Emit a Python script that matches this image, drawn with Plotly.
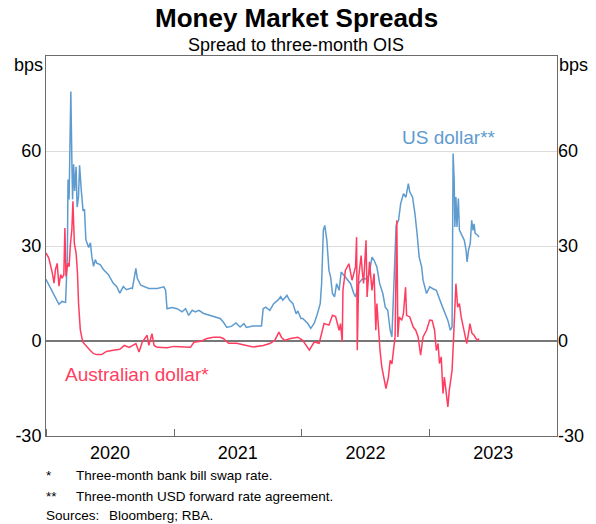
import plotly.graph_objects as go

# ---------------- data ----------------
us_dates = [
    "2020-01-01", "2020-01-14", "2020-01-28", "2020-02-07", "2020-02-16", "2020-02-26",
    "2020-03-02", "2020-03-04", "2020-03-07", "2020-03-09", "2020-03-12", "2020-03-15",
    "2020-03-17", "2020-03-20", "2020-03-23", "2020-03-27", "2020-03-30", "2020-04-03",
    "2020-04-06", "2020-04-11", "2020-04-16", "2020-04-20", "2020-04-24", "2020-05-02",
    "2020-05-07", "2020-05-11", "2020-05-16", "2020-05-21", "2020-05-25", "2020-06-04",
    "2020-06-13", "2020-06-27", "2020-07-11", "2020-07-21", "2020-07-30", "2020-08-09",
    "2020-08-18", "2020-09-01", "2020-09-04", "2020-09-14", "2020-09-18", "2020-09-28",
    "2020-10-21", "2020-11-14", "2020-12-03", "2020-12-08", "2020-12-12", "2020-12-26",
    "2021-01-10", "2021-01-24", "2021-02-03", "2021-02-12", "2021-02-22", "2021-03-03",
    "2021-03-13", "2021-03-27", "2021-04-15", "2021-04-29", "2021-05-13", "2021-05-22",
    "2021-06-01", "2021-06-15", "2021-06-27", "2021-07-09", "2021-07-20", "2021-07-27",
    "2021-08-15", "2021-09-08", "2021-09-13", "2021-09-20", "2021-10-02", "2021-10-13",
    "2021-10-25", "2021-11-02", "2021-11-08", "2021-11-20", "2021-11-27", "2021-12-07",
    "2021-12-16", "2021-12-21", "2021-12-30", "2022-01-04", "2022-01-18", "2022-01-27",
    "2022-02-06", "2022-02-15", "2022-02-23", "2022-02-27", "2022-03-04", "2022-03-08",
    "2022-03-14", "2022-03-20", "2022-03-25", "2022-03-30", "2022-04-05", "2022-04-11",
    "2022-04-18", "2022-04-24", "2022-05-02", "2022-05-11", "2022-05-21", "2022-05-30",
    "2022-06-04", "2022-06-13", "2022-06-23", "2022-07-02", "2022-07-12", "2022-07-21",
    "2022-07-27", "2022-08-04", "2022-08-12", "2022-08-21", "2022-08-28", "2022-09-04",
    "2022-09-11", "2022-09-16", "2022-09-20", "2022-09-23", "2022-09-28", "2022-10-05",
    "2022-10-11", "2022-10-19", "2022-10-26", "2022-11-02", "2022-11-06", "2022-11-14",
    "2022-11-21", "2022-11-27", "2022-12-03", "2022-12-10", "2022-12-14", "2022-12-24",
    "2023-01-02", "2023-01-11", "2023-01-21", "2023-02-04", "2023-02-13", "2023-02-23",
    "2023-03-02", "2023-03-07", "2023-03-10", "2023-03-13", "2023-03-15", "2023-03-18",
    "2023-03-21", "2023-03-25", "2023-03-28", "2023-04-02", "2023-04-06", "2023-04-11",
    "2023-04-16", "2023-04-19", "2023-04-23", "2023-04-28", "2023-05-02", "2023-05-06",
    "2023-05-09", "2023-05-12", "2023-05-19", "2023-05-23",
]
us_values = [
    19.5, 16.7, 14.1, 11.6, 12.5, 12.2,
    26.7, 51.0, 44.7, 55.0, 78.8, 56.7,
    44.7, 55.8, 47.4, 55.0, 42.3, 45.6,
    55.5, 47.4, 41.1, 41.6, 32.0, 29.5,
    31.0, 26.7, 23.6, 25.7, 24.6, 24.1,
    22.6, 21.0, 18.3, 17.2, 15.1, 17.2,
    16.2, 16.7, 16.6, 22.9, 19.8, 17.6,
    16.6, 16.6, 17.1, 16.0, 10.2, 10.6,
    10.2, 9.2, 10.2, 8.1, 9.7, 9.2,
    9.7, 8.7, 8.1, 7.6, 7.1, 6.0,
    4.3, 4.7, 5.7, 4.4, 5.5, 4.3,
    4.7, 4.7, 10.2, 10.7, 9.7, 11.8,
    12.9, 14.0, 12.9, 14.4, 12.9, 11.8,
    8.6, 9.5, 7.1, 7.1, 5.6, 4.0,
    5.6, 8.6, 11.8, 18.1, 35.0, 36.5,
    31.8, 22.3, 20.1, 15.0, 13.9, 18.1,
    16.0, 21.8, 20.7, 19.6, 18.1, 15.0,
    13.9, 18.1, 19.6, 19.6, 20.7, 26.5,
    25.5, 23.4, 18.1, 15.0, 10.7, 9.7,
    3.4, 1.3, 12.9, 25.5, 36.5, 38.1,
    43.4, 46.5, 45.4, 49.7, 47.1, 45.4,
    40.1, 33.8, 26.5, 23.4, 19.2, 15.0,
    17.1, 16.5, 16.0, 11.8, 9.1, 6.5,
    3.4, 4.4, 59.2, 50.7, 36.0, 45.5,
    36.0, 45.0, 35.0, 34.0, 32.8, 31.8,
    28.7, 25.0, 28.7, 30.8, 38.1, 34.9,
    37.0, 34.0, 33.4, 32.8,
]

aud_dates = [
    "2020-01-01", "2020-01-09", "2020-01-19", "2020-01-24", "2020-01-28", "2020-02-02",
    "2020-02-07", "2020-02-12", "2020-02-16", "2020-02-21", "2020-02-24", "2020-02-27",
    "2020-03-03", "2020-03-07", "2020-03-11", "2020-03-15", "2020-03-18", "2020-03-22",
    "2020-03-27", "2020-03-31", "2020-04-03", "2020-04-08", "2020-04-15", "2020-04-27",
    "2020-05-06", "2020-05-16", "2020-05-25", "2020-06-08", "2020-06-22", "2020-07-11",
    "2020-07-30", "2020-08-12", "2020-08-26", "2020-09-14", "2020-09-23", "2020-10-02",
    "2020-10-16", "2020-10-21", "2020-10-30", "2020-11-05", "2020-11-14", "2020-12-12",
    "2021-01-01", "2021-02-17", "2021-02-27", "2021-03-18", "2021-04-05", "2021-04-24",
    "2021-05-13", "2021-05-22", "2021-06-06", "2021-06-29", "2021-07-27", "2021-08-15",
    "2021-09-13", "2021-10-02", "2021-10-16", "2021-10-28", "2021-11-04", "2021-11-13",
    "2021-11-27", "2021-12-21", "2022-01-04", "2022-01-23", "2022-02-06", "2022-02-20",
    "2022-03-06", "2022-03-20", "2022-03-30", "2022-04-08", "2022-04-18", "2022-04-22",
    "2022-04-27", "2022-04-29", "2022-05-06", "2022-05-16", "2022-05-25", "2022-06-04",
    "2022-06-07", "2022-06-09", "2022-06-13", "2022-06-20", "2022-06-23", "2022-06-27",
    "2022-07-04", "2022-07-07", "2022-07-14", "2022-07-21", "2022-07-27", "2022-08-01",
    "2022-08-04", "2022-08-09", "2022-08-13", "2022-08-18", "2022-08-25", "2022-08-30",
    "2022-09-06", "2022-09-11", "2022-09-16", "2022-09-20", "2022-09-25", "2022-09-30",
    "2022-10-03", "2022-10-07", "2022-10-14", "2022-10-19", "2022-10-25", "2022-10-28",
    "2022-11-06", "2022-11-16", "2022-11-23", "2022-11-30", "2022-12-07", "2022-12-14",
    "2022-12-24", "2023-01-02", "2023-01-09", "2023-01-16", "2023-01-21", "2023-01-26",
    "2023-01-30", "2023-02-04", "2023-02-09", "2023-02-13", "2023-02-18", "2023-02-23",
    "2023-02-27", "2023-03-04", "2023-03-07", "2023-03-11", "2023-03-14", "2023-03-18",
    "2023-03-23", "2023-03-28", "2023-04-02", "2023-04-08", "2023-04-14", "2023-04-18",
    "2023-04-23", "2023-04-27", "2023-05-03", "2023-05-09", "2023-05-14", "2023-05-19",
    "2023-05-23",
]
aud_values = [
    27.8, 26.2, 21.5, 18.3, 22.6, 24.5,
    17.3, 21.0, 19.8, 21.0, 35.7, 20.4,
    24.5, 23.5, 30.8, 35.2, 44.1, 30.8,
    27.8, 21.5, 12.0, 3.6, -0.3, -1.9,
    -2.9, -4.0, -4.3, -4.3, -3.3, -2.9,
    -2.6, -1.4, -2.0, -0.8, -3.5, -0.4,
    1.8, -1.4, 2.3, -1.4, -2.0, -2.1,
    -1.7, -2.0, -0.4, -0.1, 0.8, 1.2,
    1.2, 0.8, -0.7, -0.7, -1.4, -1.9,
    -1.4, -0.8, 0.2, 2.8, 1.2, 0.2,
    0.7, 1.2, 0.2, -2.9, -0.3, -0.7,
    5.5, 5.0, 8.1, 7.7, 3.4, 5.5,
    -0.3, 16.0, 22.3, 24.4, 19.2, 23.4,
    32.8, -2.9, 20.2, 27.0, 22.3, 18.2,
    31.8, 13.9, 25.0, 16.0, 21.3, 3.4,
    11.8, 1.3, -2.9, -8.2, -12.4, -15.0,
    -11.4, -6.1, -7.2, -2.9, 1.3, 38.1,
    1.3, 7.6, 6.5, 8.7, 17.0, 8.1,
    7.6, 4.4, 3.4, 1.3, -4.5, 1.3,
    3.4, 6.6, 6.5, 3.4, -3.0, -0.8,
    -7.1, -5.0, -16.6, -11.4, -15.6, -20.8,
    -15.6, -11.4, -9.3, 0.2, 10.7, 18.1,
    10.7, 11.8, 7.6, 4.4, 1.3, -0.8,
    2.4, 5.5, 2.4, 1.8, 0.8, 0.2,
    0.8,
]

y_ticks = [-30, 0, 30, 60]
y_tick_labels = ["-30", "0", "30", "60"]
x_range = ["2020-01-01", "2024-01-01"]
y_range = [-30, 90]

title_text = "Money Market Spreads"
subtitle_text = "Spread to three-month OIS"
unit_text = "bps"
us_label = "US dollar**"
aud_label = "Australian dollar*"
notes = [("*", "Three-month bank bill swap rate."),
         ("**", "Three-month USD forward rate agreement."),
         ("Sources:", "Bloomberg; RBA.")]

# ---------------- styling ----------------
BLUE = "#5E9BCF"
RED = "#FF3D60"
FONT = "Arial, Liberation Sans, sans-serif"
AXIS = "#6b6b6b"

W, H = 596, 524
L, R, T, B = 46, 35, 56, 88
plot_h = H - T - B
plot_w = W - L - R


def py(pix):  # pixel row -> paper y
    return (H - B - pix) / plot_h


def px(pix):  # pixel column -> paper x
    return (pix - L) / plot_w


fig = go.Figure()
fig.add_trace(go.Scatter(x=us_dates, y=us_values, mode="lines",
                         line=dict(color=BLUE, width=1.5), showlegend=False,
                         hoverinfo="skip"))
fig.add_trace(go.Scatter(x=aud_dates, y=aud_values, mode="lines",
                         line=dict(color=RED, width=1.5), showlegend=False,
                         hoverinfo="skip"))
# invisible point on the right axis so the mirrored axis is drawn
fig.add_trace(go.Scatter(x=aud_dates[:1], y=aud_values[:1], mode="lines",
                         yaxis="y2", line=dict(width=0), opacity=0,
                         showlegend=False, hoverinfo="skip"))

fig.update_layout(
    width=W, height=H,
    margin=dict(l=L, r=R, t=T, b=B, pad=0),
    paper_bgcolor="white", plot_bgcolor="white",
    font=dict(family=FONT, size=18, color="black"),
    xaxis=dict(
        type="date", range=x_range, dtick="M12", tick0="2020-01-01",
        ticklabelmode="period", tickformat="%Y",
        ticks="inside", ticklen=7, tickcolor=AXIS, tickwidth=1,
        showgrid=False, showline=True, linecolor=AXIS, linewidth=1,
        mirror=True, zeroline=False, tickfont=dict(size=18),
    ),
    yaxis=dict(
        range=y_range, tickvals=y_ticks, ticktext=y_tick_labels, ticks="",
        showgrid=True, gridcolor="#dcdcdc", gridwidth=1, zeroline=True,
        zerolinecolor="#777777", zerolinewidth=1.5,
        showline=True, linecolor=AXIS, linewidth=1, mirror=True,
        tickfont=dict(size=18),
    ),
    yaxis2=dict(
        range=y_range, tickvals=y_ticks, ticktext=y_tick_labels, ticks="",
        overlaying="y", side="right", showgrid=False, zeroline=False,
        showline=False, tickfont=dict(size=18),
    ),
)

ann = []
ann.append(dict(text=f"<b>{title_text}</b>", x=px(298), y=py(18), xref="paper",
                yref="paper", showarrow=False, xanchor="center", yanchor="middle",
                font=dict(size=26)))
ann.append(dict(text=subtitle_text, x=px(298), y=py(45), xref="paper",
                yref="paper", showarrow=False, xanchor="center", yanchor="middle",
                font=dict(size=18)))
ann.append(dict(text=unit_text, x=0, y=py(65), xref="paper", yref="paper",
                showarrow=False, xanchor="right", yanchor="middle", xshift=-1,
                font=dict(size=18)))
ann.append(dict(text=unit_text, x=1, y=py(65), xref="paper", yref="paper",
                showarrow=False, xanchor="left", yanchor="middle", xshift=0,
                font=dict(size=18)))
ann.append(dict(text=us_label, x=px(502), y=py(137), xref="paper", yref="paper",
                showarrow=False, xanchor="right", yanchor="middle",
                font=dict(size=19, color=BLUE)))
ann.append(dict(text=aud_label, x=px(63), y=py(374), xref="paper", yref="paper",
                showarrow=False, xanchor="left", yanchor="middle",
                font=dict(size=19, color=RED)))
note_rows = [476, 496, 515]
for (mark, txt), row in zip(notes, note_rows):
    ann.append(dict(text=mark, x=px(44), y=py(row), xref="paper", yref="paper",
                    showarrow=False, xanchor="left", yanchor="middle",
                    font=dict(size=13.5)))
    tx = 107 if mark.startswith("Sources") else 74
    ann.append(dict(text=txt, x=px(tx), y=py(row), xref="paper", yref="paper",
                    showarrow=False, xanchor="left", yanchor="middle",
                    font=dict(size=13.5)))
fig.update_layout(annotations=ann)

# the page itself adds no margin around the figure; no toolbar
fig.write_html(
    "out.html",
    config={"displayModeBar": False},
    post_script="document.body.style.margin='0';document.body.style.overflow='hidden';",
)
